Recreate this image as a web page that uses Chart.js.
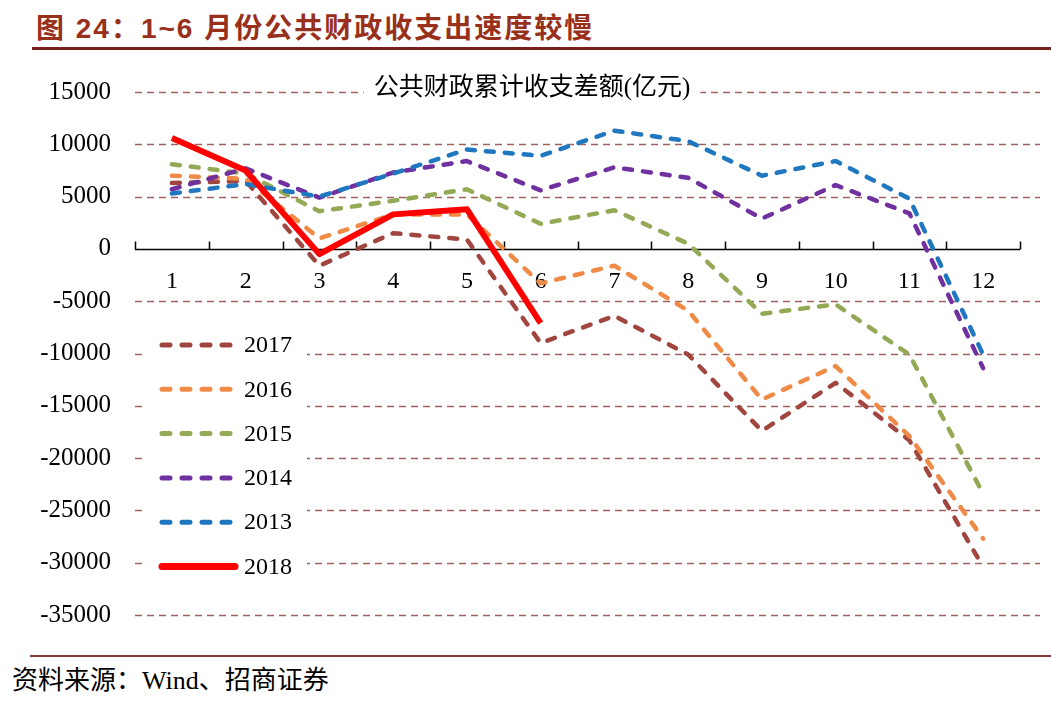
<!DOCTYPE html>
<html>
<head>
<meta charset="utf-8">
<script src="https://cdn.jsdelivr.net/npm/chart.js@4.4.0/dist/chart.umd.min.js"></script>
<style>
    body { margin: 0; background: #fff; width: 1051px; height: 701px; overflow: hidden; position: relative; }
    #titre { position: absolute; left: 36px; top: 6px; font: bold 28px "Liberation Sans", "Noto Sans CJK SC", sans-serif; letter-spacing: 2px; color: #98301c; white-space: nowrap; }
    #titre-ligne { position: absolute; left: 32px; right: 0; top: 47px; height: 3px; background: #7a1f1a; }
    #source-ligne { position: absolute; left: 30px; right: 0; top: 655px; height: 2px; background: #8a3a36; }
    #source { position: absolute; left: 12px; top: 659px; font: 26px "Liberation Serif", "Noto Sans CJK SC", serif; color: #000; white-space: nowrap; }
    #graphique { position: absolute; left: 0; top: 53px; }
</style>
</head>
<body>
<div id="titre">图 24：1~6 月份公共财政收支出速度较慢</div>
<div id="titre-ligne"></div>
<canvas id="graphique" width="1051" height="601"></canvas>
<div id="source-ligne"></div>
<div id="source">资料来源：Wind、招商证券</div>
<script>
"use strict";

// données (亿元)
const mois = ['1', '2', '3', '4', '5', '6', '7', '8', '9', '10', '11', '12'];
const solde2017 = [6300, 6500, -1600, 1500, 900, -9000, -6400, -10100, -17400, -12800, -18300, -30400];
const solde2016 = [7000, 6700, 1000, 3300, 3300, -3300, -1600, -5900, -14400, -11200, -17900, -27700];
const solde2015 = [8100, 7200, 3600, 4600, 5700, 2400, 3700, 500, -6200, -5300, -10100, -23400];
const solde2014 = [5700, 7700, 4900, 7300, 8400, 5600, 7800, 6800, 2900, 6100, 3400, -11400];
const solde2013 = [5300, 6200, 5000, 7200, 9500, 8900, 11300, 10300, 7000, 8400, 4800, -10100];
const solde2018 = [10600, 7500, -500, 3300, 3800, -7100];

const titreGraphique = '公共财政累计收支差额(亿元)';
const POLICE = '"Liberation Serif", "Noto Sans CJK SC", serif';

function serie(label, data, couleur, pointille, ordre) {
    return {
        label: label,
        data: data,
        borderColor: couleur,
        backgroundColor: couleur,
        borderWidth: pointille ? 4.5 : 6,
        borderDash: pointille ? [8, 11] : [],
        borderCapStyle: pointille ? 'round' : 'butt',
        borderJoinStyle: 'round',
        pointRadius: 0,
        tension: 0,
        fill: false,
        order: ordre
    };
}

/**
 * Grille, axe des x, titre et légende dessinés à la main
 */
const decor = {
    id: 'decor',
    beforeDatasetsDraw(chart) {
        const {ctx, chartArea: {left, right}, scales: {x, y}} = chart;
        ctx.save();
        ctx.strokeStyle = '#a0605c';
        ctx.lineWidth = 1.3;
        ctx.setLineDash([7, 5]);
        y.ticks.forEach(t => {
            if (t.value === 0) return;
            const py = Math.round(y.getPixelForValue(t.value)) + 0.5;
            ctx.beginPath();
            ctx.moveTo(left, py);
            ctx.lineTo(right + 20, py);
            ctx.stroke();
        });
        // axe horizontal à zéro, graduations vers le haut
        ctx.setLineDash([]);
        ctx.strokeStyle = '#000';
        ctx.lineWidth = 1.5;
        const y0 = Math.round(y.getPixelForValue(0)) + 0.5;
        ctx.beginPath();
        ctx.moveTo(left, y0);
        ctx.lineTo(right, y0);
        const n = x.ticks.length;
        for (let i = 0; i <= n; i++) {
            const px = Math.round(left + (right - left) * i / n) + 0.5;
            ctx.moveTo(px, y0);
            ctx.lineTo(px, y0 - 8);
        }
        ctx.stroke();
        ctx.restore();
    },
    afterDraw(chart) {
        const {ctx, chartArea: {left, top}} = chart;
        ctx.save();
        // titre sur fond blanc
        ctx.font = '25px ' + POLICE;
        const tw = ctx.measureText(titreGraphique).width;
        const tx = left + 397;
        ctx.fillStyle = '#fff';
        ctx.fillRect(tx - tw / 2 - 10, top - 19, tw + 20, 30);
        ctx.fillStyle = '#000';
        ctx.textAlign = 'center';
        ctx.textBaseline = 'middle';
        ctx.fillText(titreGraphique, tx, top - 4);

        // légende
        const lx = left + 7;
        const ly = top + 233;
        ctx.fillStyle = '#fff';
        ctx.fillRect(lx, ly, 165, 262);
        ctx.textAlign = 'left';
        ctx.font = '24px ' + POLICE;
        chart.data.datasets.forEach((ds, i) => {
            const cy = top + 253 + i * 44.3;
            ctx.strokeStyle = ds.borderColor;
            ctx.lineWidth = ds.borderDash.length ? 5 : 7;
            ctx.lineCap = 'round';
            ctx.setLineDash(ds.borderDash.length ? [8, 12] : []);
            ctx.beginPath();
            ctx.moveTo(left + 27, cy);
            ctx.lineTo(left + 100, cy);
            ctx.stroke();
            ctx.fillStyle = '#000';
            ctx.fillText(ds.label, left + 109, cy + 1);
        });
        ctx.restore();
    }
};

const graphique = new Chart(document.getElementById('graphique'), {
    type: 'line',
    data: {
        labels: mois,
        datasets: [
            serie('2017', solde2017, '#a0463f', true, 5),
            serie('2016', solde2016, '#ef8a47', true, 4),
            serie('2015', solde2015, '#93a955', true, 3),
            serie('2014', solde2014, '#7030a0', true, 2),
            serie('2013', solde2013, '#1f78bf', true, 1),
            serie('2018', solde2018, '#ff0000', false, 0)
        ]
    },
    options: {
        responsive: false,
        animation: false,
        layout: {padding: {left: 35, right: 31, top: 21, bottom: 32}},
        plugins: {
            legend: {display: false},
            tooltip: {enabled: false}
        },
        scales: {
            x: {
                position: {y: 0},
                offset: true,
                grid: {display: false, drawTicks: false},
                border: {display: false},
                ticks: {color: '#000', font: {family: POLICE, size: 24}, padding: 18, maxRotation: 0, autoSkip: false}
            },
            y: {
                min: -35000,
                max: 15000,
                grid: {display: false, drawTicks: false},
                border: {display: false},
                ticks: {
                    stepSize: 5000,
                    color: '#000',
                    font: {family: POLICE, size: 25},
                    padding: 24,
                    callback: function (value) {
                        return String(value);
                    }
                },
                afterFit(scale) {
                    scale.width = 100;
                }
            }
        }
    },
    plugins: [decor]
});
</script>
</body>
</html>
